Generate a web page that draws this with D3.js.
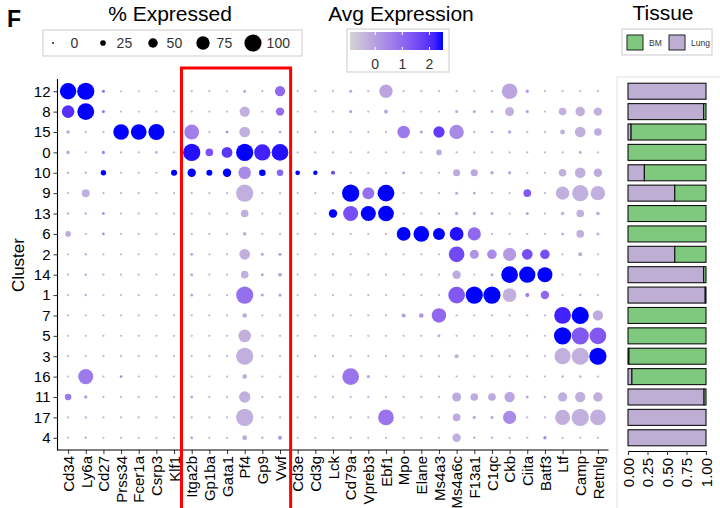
<!DOCTYPE html>
<html>
<head>
<meta charset="utf-8">
<script src="https://cdn.jsdelivr.net/npm/d3@7"></script>
<style>
  body { margin: 0; background: #fff; }
  svg { font-family: "Liberation Sans", Arial, sans-serif; }
</style>
</head>
<body>
<svg id="chart" width="720" height="508"></svg>
<script>
// genes on x, clusters on y (top to bottom)
const genes = ['Cd34','Ly6a','Cd27','Prss34','Fcer1a','Csrp3','Klf1','Itga2b','Gp1ba','Gata1','Pf4','Gp9','Vwf',
  'Cd3e','Cd3g','Lck','Cd79a','Vpreb3','Ebf1','Mpo','Elane','Ms4a3','Ms4a6c','F13a1','C1qc','Ckb','Ciita','Batf3','Ltf','Camp','Retnlg'];
const clusters = ['12','8','15','0','10','9','13','6','2','14','1','7','5','3','16','11','17','4'];

// % of cells expressing, one row per cluster
const pctExpressed = [
  [95,100,8,2,2,2,2, 3,3,2,8,3,55, 3,3,3, 8,3,75, 3,3,3, 3,3,3, 90,10,3, 3,3,3],
  [70,98,8,3,3,3,3, 3,3,3,55,3,43, 3,3,3, 8,3,15, 3,3,3, 8,8,6, 47,10,3, 38,50,43],
  [10,3,3,90,90,92,3, 85,3,6,58,3,6, 3,3,3, 3,3,3, 70,8,62, 82,4,6, 12,3,3, 20,58,38],
  [12,3,8,3,3,5,3, 100,38,58,100,94,97, 3,3,3, 3,3,3, 3,3,25, 3,3,3, 3,3,3, 3,8,3],
  [4,4,23,3,3,3,28, 43,27,43,70,31,31, 19,17,15, 3,3,3, 8,3,3, 35,35,12, 10,3,3, 38,58,43],
  [2,40,3,3,3,3,3, 3,3,3,100,3,3, 3,3,3, 100,66,97, 3,3,3, 8,6,3, 3,38,3, 75,94,82],
  [4,4,5,3,3,3,3, 3,3,3,38,3,3, 3,3,43, 86,86,90, 3,3,4, 10,10,8, 3,8,3, 10,38,12],
  [25,3,6,3,3,3,3, 3,3,3,12,3,3, 3,3,3, 3,3,3, 78,90,66, 78,74,3, 3,3,3, 8,38,8],
  [3,4,3,3,3,3,3, 8,3,3,58,8,10, 3,3,3, 3,3,3, 3,3,3, 90,47,50, 74,58,50, 3,15,3],
  [3,5,3,3,3,3,3, 8,3,3,38,8,15, 3,3,3, 3,3,3, 3,3,3, 43,3,8, 97,94,86, 3,3,3],
  [3,5,3,3,3,3,3, 8,3,3,100,8,10, 3,3,3, 3,3,3, 3,3,3, 97,100,100, 78,15,43, 3,5,3],
  [3,3,3,3,3,3,3, 3,3,3,18,3,3, 3,3,3, 3,3,3, 15,18,82, 3,3,3, 3,3,3, 97,100,55],
  [3,3,3,3,3,3,3, 3,3,3,70,3,3, 3,3,3, 3,3,3, 3,3,8, 3,3,3, 3,3,3, 100,100,97],
  [3,3,3,3,3,3,3, 3,3,3,100,3,3, 3,3,3, 3,3,3, 3,3,3, 15,3,3, 3,3,3, 94,100,100],
  [2,86,3,5,3,3,3, 3,3,3,18,3,3, 3,3,3, 97,10,3, 3,3,3, 3,3,3, 3,3,3, 5,5,3],
  [31,10,3,3,3,3,3, 8,3,3,62,3,3, 3,3,3, 3,3,3, 3,3,3, 47,38,38, 55,8,5, 50,55,50],
  [3,4,3,3,3,3,3, 3,3,3,100,3,3, 3,3,3, 3,3,90, 3,3,3, 38,10,8, 74,3,3, 86,100,90],
  [3,4,3,3,3,3,3, 8,3,3,20,4,15, 3,3,3, 3,3,3, 3,3,3, 43,4,4, 3,3,10, 3,3,3]
];

// scaled average expression, same layout
const avgExpression = [
  [2.5,2.5,0.9,-.4,-.4,-.4,-.4, -.4,-.4,-.4,-.1,-.4,1.0, -.4,-.4,-.4, 0,-.4,-.1, -.4,-.4,-.4, -.4,-.4,-.4, -.1,.1,-.4, -.4,-.4,-.4],
  [2.0,2.5,0.7,-.4,-.4,-.4,-.4, -.4,-.4,-.4,-.3,-.4,0.9, -.4,-.4,-.4, 0,-.4,-.2, -.4,-.4,-.4, -.2,-.2,-.2, -.3,0,-.4, -.3,-.3,-.3],
  [-.1,-.4,-.4,2.5,2.5,2.5,-.4, 0.6,-.4,0.5,-.3,-.4,0, -.4,-.4,-.4, -.4,-.4,-.4, 0.7,0,1.8, 0.4,-.4,-.2, -.2,-.4,-.4, -.3,-.3,-.2],
  [-.2,-.4,0.7,-.4,-.4,-.1,-.4, 2.4,1.4,1.9,2.5,2.2,2.4, -.4,-.4,-.4, -.4,-.4,-.4, -.4,-.4,-.2, -.4,-.4,-.4, -.4,-.4,-.4, -.4,-.3,-.4],
  [-.3,-.3,2.5,-.4,-.4,-.4,2.5, 2.5,2.5,2.5,0.4,2.5,1.1, 2.5,2.5,1.6, -.4,-.4,-.4, -.2,-.4,-.4, -.2,-.1,-.2, -.2,-.4,-.4, -.3,-.3,-.2],
  [-.4,-.3,-.4,-.4,-.4,-.4,-.4, -.4,-.4,-.4,-.3,-.4,-.4, -.4,-.4,-.4, 2.5,0.9,2.5, -.4,-.4,-.4, -.2,-.2,-.4, -.4,1.3,-.4, -.3,-.3,-.3],
  [-.3,-.3,0.8,-.4,-.4,-.4,-.4, -.4,-.4,-.4,-.3,-.4,-.4, -.4,-.4,2.5, 1.5,2.5,2.5, -.4,-.4,-.3, -.2,-.2,-.2, -.4,-.1,-.4, -.2,-.3,-.2],
  [-.2,-.4,0.3,-.4,-.4,-.4,-.4, -.4,-.4,-.4,-.3,-.4,-.4, -.4,-.4,-.4, -.4,-.4,-.4, 2.5,2.5,2.5, 2.4,1.0,-.4, -.4,-.4,-.4, -.3,-.3,-.3],
  [-.4,-.3,-.4,-.4,-.4,-.4,-.4, -.2,-.4,-.4,-.3,-.1,-.1, -.4,-.4,-.4, -.4,-.4,-.4, -.4,-.4,-.4, 1.6,0.2,0.4, 0.1,1.5,1.5, -.4,-.2,-.4],
  [-.4,-.3,-.4,-.4,-.4,-.4,-.4, -.2,-.4,-.4,-.3,-.1,-.2, -.4,-.4,-.4, -.4,-.4,-.4, -.4,-.4,-.4, -.2,-.4,-.2, 2.5,2.5,2.5, -.4,-.4,-.4],
  [-.4,-.3,-.4,-.4,-.4,-.4,-.4, -.2,-.4,-.4,0.9,-.1,-.1, -.4,-.4,-.4, -.4,-.4,-.4, -.4,-.4,-.4, 1.3,2.5,2.5, -.3,0.6,1.0, -.4,-.3,-.4],
  [-.4,-.4,-.4,-.4,-.4,-.4,-.4, -.4,-.4,-.4,-.2,-.4,-.4, -.4,-.4,-.4, -.4,-.4,-.4, 0,0.2,1.0, -.4,-.4,-.4, -.4,-.4,-.4, 2.2,2.5,-.2],
  [-.4,-.4,-.4,-.4,-.4,-.4,-.4, -.4,-.4,-.4,-.3,-.4,-.4, -.4,-.4,-.4, -.4,-.4,-.4, -.4,-.4,-.2, -.4,-.4,-.4, -.4,-.4,-.4, 2.5,1.3,1.3],
  [-.4,-.4,-.4,-.4,-.4,-.4,-.4, -.4,-.4,-.4,-.3,-.4,-.4, -.4,-.4,-.4, -.4,-.4,-.4, -.4,-.4,-.4, -.3,-.4,-.4, -.4,-.4,-.4, -.3,-.3,2.5],
  [-.4,0.7,-.4,0.5,-.4,-.4,-.4, -.4,-.4,-.4,-.2,-.4,-.4, -.4,-.4,-.4, 0.8,-.1,-.4, -.4,-.4,-.4, -.4,-.4,-.4, -.4,-.4,-.4, -.4,-.4,-.4],
  [0.7,0,-.4,-.4,-.4,-.4,-.4, -.2,-.4,-.4,-.3,-.4,-.4, -.4,-.4,-.4, -.4,-.4,-.4, -.4,-.4,-.4, -.2,-.2,-.2, -.1,-.2,-.3, -.3,-.3,-.3],
  [-.4,-.3,-.4,-.4,-.4,-.4,-.4, -.4,-.4,-.4,-.3,-.4,-.4, -.4,-.4,-.4, -.4,-.4,0.8, -.4,-.4,-.4, -.2,-.2,-.2, 0.4,-.4,-.4, -.3,-.3,-.3],
  [-.4,-.3,-.4,-.4,-.4,-.4,-.4, -.2,-.4,-.4,-.2,-.3,0.2, -.4,-.4,-.4, -.4,-.4,-.4, -.4,-.4,-.4, -.3,-.3,-.3, -.4,-.4,0.4, -.4,-.4,-.4]
];

// fraction of each cluster coming from lung (rest is BM)
const lungFraction = [1.0,0.97,0.04,0,0.21,0.60,0,0,0.60,0.97,0.99,0,0,0.012,0.05,0.975,1.0,1.0];

const sizeBreaks = [0,25,50,75,100];
const colorTicks = [0,1,2];
const tissueTicks = [0,0.25,0.5,0.75,1];
const tissues = ['BM','Lung'];
const tissueColors = {BM:'#7FC97F', Lung:'#BEAED4'};
const boxedGenes = ['Itga2b','Vwf'];

const svg = d3.select('#chart');

// scales
const x = d3.scalePoint().domain(genes).range([57.5, 608.5]).padding(0.6);
const y = d3.scalePoint().domain(clusters).range([79, 450]).padding(0.6);
const r = d3.scaleLinear().domain([0,100]).range([0.9, 8.6]);
const expDomain = [-0.93, 2.5];
const color = d3.scaleLinear().domain(expDomain).range(['#d3d3d3','#0000ff'])
  .interpolate(d3.interpolateLab).clamp(true);

// dots
const cells = [];
clusters.forEach((c,i) => genes.forEach((g,j) => {
  cells.push({cluster:c, gene:g, pct:pctExpressed[i][j], exp:avgExpression[i][j]});
}));
svg.append('g').selectAll('circle').data(cells).join('circle')
  .attr('cx', d => x(d.gene))
  .attr('cy', d => y(d.cluster))
  .attr('r', d => r(d.pct))
  .attr('fill', d => color(d.exp));

// axes
const yAxis = svg.append('g').attr('transform','translate(57.5,0)')
  .call(d3.axisLeft(y).tickSize(4).tickPadding(3));
const xAxis = svg.append('g').attr('transform','translate(0,450)')
  .call(d3.axisBottom(x).tickSize(4));
[yAxis, xAxis].forEach(a => {
  a.select('.domain').attr('stroke','#000').attr('stroke-width',1.1).attr('d', null);
  a.selectAll('.tick line').attr('stroke','#333');
  a.selectAll('text').attr('fill','#000').attr('font-size',15);
});
svg.append('line').attr('x1',57.5).attr('x2',57.5).attr('y1',79).attr('y2',450.5).attr('stroke','#000').attr('stroke-width',1.1);
svg.append('line').attr('x1',57).attr('x2',608.5).attr('y1',450).attr('y2',450).attr('stroke','#000').attr('stroke-width',1.1);
xAxis.selectAll('text')
  .attr('transform','rotate(-90)')
  .attr('text-anchor','end')
  .attr('x', -6).attr('y', 0).attr('dy','0.35em');

svg.append('text').attr('transform','translate(24,265) rotate(-90)')
  .attr('text-anchor','middle').attr('font-size',17).text('Cluster');

// red box round the platelet genes
const step = x.step();
svg.append('rect')
  .attr('x', x(boxedGenes[0]) - step*0.58)
  .attr('y', 68)
  .attr('width', x(boxedGenes[1]) - x(boxedGenes[0]) + step*1.18)
  .attr('height', 445)
  .attr('fill','none').attr('stroke','#ff0000').attr('stroke-width',3);

// panel letter
svg.append('text').attr('x',7).attr('y',27).attr('font-size',23).attr('font-weight','bold').text('F');

// size legend
svg.append('text').attr('x',170).attr('y',21).attr('text-anchor','middle').attr('font-size',21).text('% Expressed');
svg.append('rect').attr('x',43).attr('y',30).attr('width',259).attr('height',26)
  .attr('fill','#fff').attr('stroke','#ccc');
const sizeX = d3.scalePoint().domain(sizeBreaks).range([53,253]);
const sl = svg.append('g').selectAll('g').data(sizeBreaks).join('g')
  .attr('transform', d => `translate(${sizeX(d)},43)`);
sl.append('circle').attr('r', d => r(d)).attr('fill','#000');
sl.append('text').attr('x', d => r(100) + 5 + (d === 0 ? 4 : 0)).attr('dy','0.35em')
  .attr('font-size',14).attr('fill','#333').text(d => d);

// colour legend
svg.append('text').attr('x',401).attr('y',21).attr('text-anchor','middle').attr('font-size',21).text('Avg Expression');
svg.append('rect').attr('x',347).attr('y',29).attr('width',102).attr('height',43)
  .attr('fill','#fff').attr('stroke','#ccc');
const cbar = d3.scaleLinear().domain(expDomain).range([350,443]);
const grad = svg.append('defs').append('linearGradient').attr('id','expgrad');
d3.range(0,1.001,0.1).forEach(t => {
  const v = expDomain[0] + t*(expDomain[1]-expDomain[0]);
  grad.append('stop').attr('offset', t).attr('stop-color', color(v));
});
svg.append('rect').attr('x',350).attr('y',32).attr('width',93).attr('height',18).attr('fill','url(#expgrad)');
colorTicks.forEach(t => {
  svg.append('line').attr('x1',cbar(t)).attr('x2',cbar(t)).attr('y1',32).attr('y2',35).attr('stroke','#fff');
  svg.append('line').attr('x1',cbar(t)).attr('x2',cbar(t)).attr('y1',47).attr('y2',50).attr('stroke','#fff');
  svg.append('text').attr('x',cbar(t)).attr('y',69).attr('text-anchor','middle')
    .attr('font-size',14).attr('fill','#333').text(t);
});

// tissue panel
svg.append('text').attr('x',663).attr('y',20).attr('text-anchor','middle').attr('font-size',21).text('Tissue');
svg.append('rect').attr('x',622).attr('y',29).attr('width',90).attr('height',26)
  .attr('fill','#fff').attr('stroke','#ccc');
const tl = svg.append('g').selectAll('g').data(tissues).join('g')
  .attr('transform', (d,i) => `translate(${627 + i*42},35)`);
tl.append('rect').attr('width',16).attr('height',15).attr('fill', d => tissueColors[d])
  .attr('stroke','#222').attr('stroke-width',1);
tl.append('text').attr('x',22).attr('y',11).attr('font-size',8.5).attr('fill','#333').text(d => d);

svg.append('path').attr('d','M722,77H617V510').attr('fill','none').attr('stroke','#e3e3e3');

const xt = d3.scaleLinear().domain([0,1]).range([628,706]);
const barH = 16;
const bars = [];
clusters.forEach((c,i) => {
  bars.push({cluster:c, tissue:'Lung', x0:0, x1:lungFraction[i]});
  bars.push({cluster:c, tissue:'BM', x0:lungFraction[i], x1:1});
});
svg.append('g').selectAll('rect').data(bars.filter(b => b.x1 > b.x0)).join('rect')
  .attr('x', d => xt(d.x0))
  .attr('y', d => y(d.cluster) - barH/2)
  .attr('width', d => xt(d.x1) - xt(d.x0))
  .attr('height', barH)
  .attr('fill', d => tissueColors[d.tissue])
  .attr('stroke','#111').attr('stroke-width',1.1);

const tAxis = svg.append('g').attr('transform','translate(0,451)')
  .call(d3.axisBottom(xt).tickValues(tissueTicks).tickFormat(d3.format('.2f')).tickSize(4));
tAxis.select('.domain').attr('stroke','#000').attr('stroke-width',1.1);
tAxis.selectAll('.tick line').attr('stroke','#333');
tAxis.selectAll('text')
  .attr('fill','#000').attr('font-size',15)
  .attr('transform','rotate(-90)')
  .attr('text-anchor','end')
  .attr('x', -7).attr('y', 0).attr('dy','0.35em');
</script>
</body>
</html>
